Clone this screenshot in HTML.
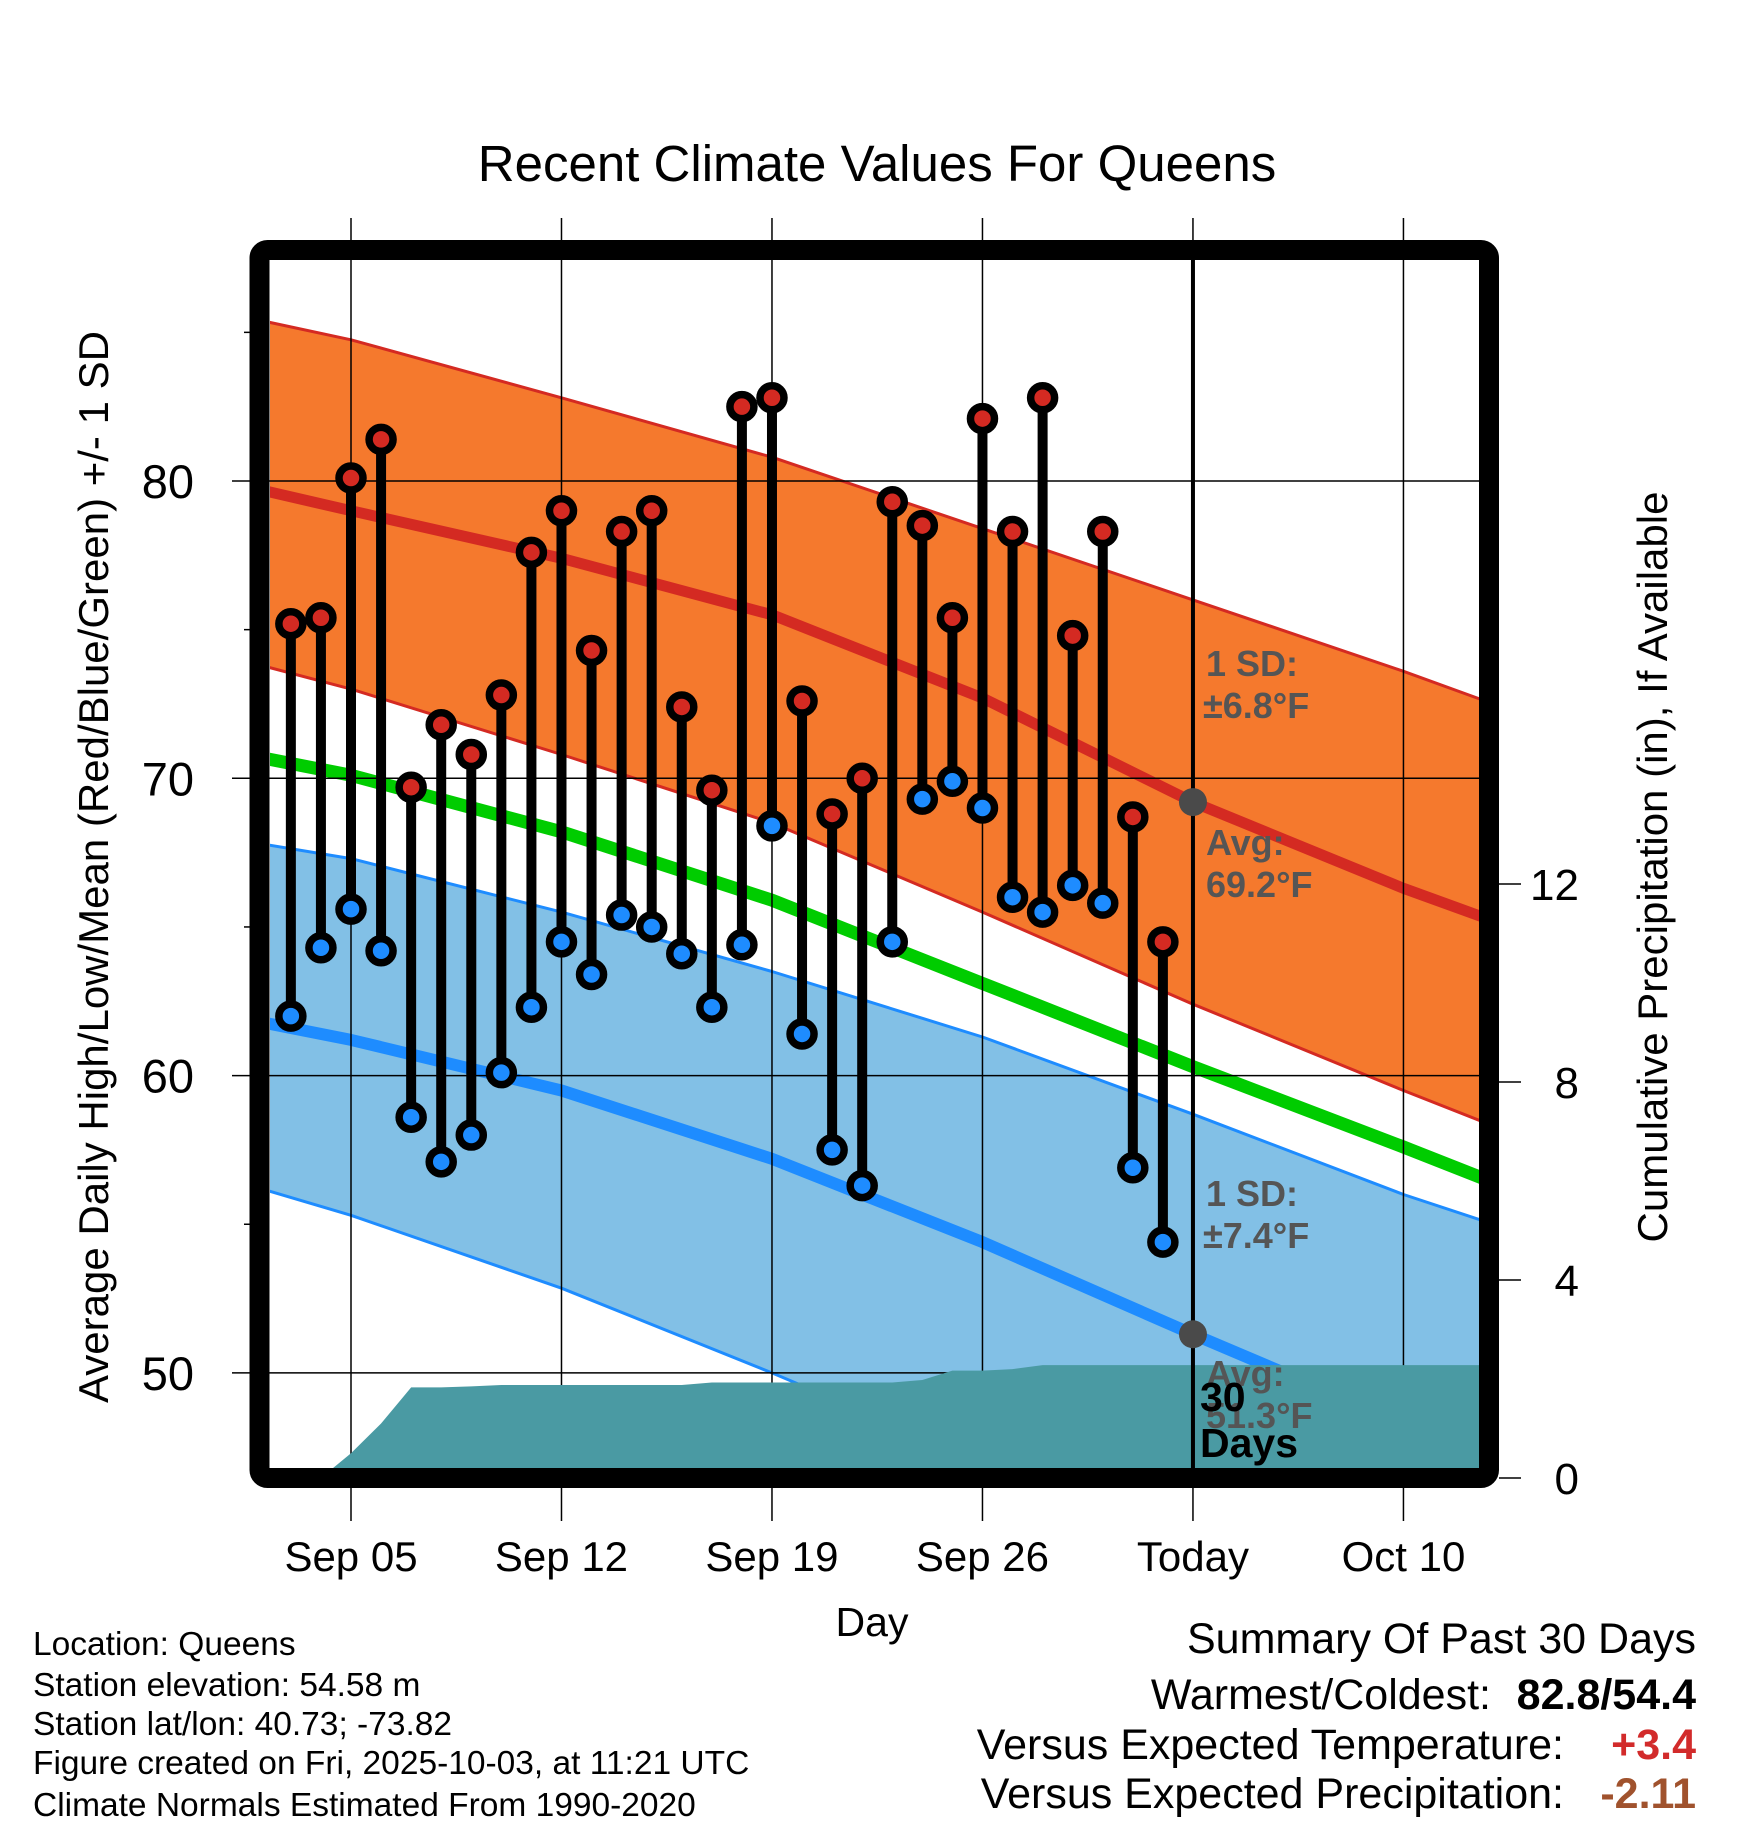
<!DOCTYPE html>
<html><head><meta charset="utf-8"><style>
html,body{margin:0;padding:0;background:#fff;}
svg{display:block;font-family:"Liberation Sans",Arial,sans-serif;}
</style></head><body>
<svg id="chart" width="1748" height="1828" viewBox="0 0 1748 1828" xmlns="http://www.w3.org/2000/svg">
<defs><clipPath id="plotclip"><rect x="270" y="260" width="1209" height="1208"/></clipPath></defs>
<rect x="0" y="0" width="1748" height="1828" fill="#fff"/>
<text x="877" y="181" font-size="51" text-anchor="middle">Recent Climate Values For Queens</text>
<g id="bands" clip-path="url(#plotclip)"></g>
<g id="grid"></g>
<g id="precip" clip-path="url(#plotclip)"></g>
<g id="marks"></g>
<g id="annot"></g>
<rect x="259.5" y="250" width="1229.5" height="1228" rx="8" fill="none" stroke="#000" stroke-width="20"/>
<g id="axes"></g>
<text transform="translate(108,867) rotate(-90)" font-size="42" text-anchor="middle">Average Daily High/Low/Mean (Red/Blue/Green) +/- 1 SD</text>
<text transform="translate(1667,867) rotate(-90)" font-size="42" text-anchor="middle">Cumulative Precipitation (in), If Available</text>
<text x="872" y="1636" font-size="41" text-anchor="middle">Day</text>
<g font-size="33.5">
<text x="33" y="1655">Location: Queens</text>
<text x="33" y="1696">Station elevation: 54.58 m</text>
<text x="33" y="1735">Station lat/lon: 40.73; -73.82</text>
<text x="33" y="1774">Figure created on Fri, 2025-10-03, at 11:21 UTC</text>
<text x="33" y="1816">Climate Normals Estimated From 1990-2020</text>
</g>
<g font-size="43">
<text x="1696" y="1653" text-anchor="end">Summary Of Past 30 Days</text>
<text x="1491" y="1709" text-anchor="end">Warmest/Coldest:</text>
<text x="1696" y="1709" text-anchor="end" font-weight="bold">82.8/54.4</text>
<text x="1564" y="1759" text-anchor="end">Versus Expected Temperature:</text>
<text x="1696" y="1759" text-anchor="end" font-weight="bold" fill="#d22b2b">+3.4</text>
<text x="1564" y="1808" text-anchor="end">Versus Expected Precipitation:</text>
<text x="1696" y="1808" text-anchor="end" font-weight="bold" fill="#a0522d">-2.11</text>
</g>
</svg>
<script>
// ---- data ----
const normDays = [2, 5, 12, 19, 26, 33, 40, 43];           // day number from Sep 0 (Oct 3 = 33)
const highUpper = [85.4, 84.75, 82.8, 80.8, 78.4, 76.0, 73.6, 72.5];
const highMean  = [79.7, 79.0, 77.4, 75.5, 72.7, 69.2, 66.3, 65.2];
const highLower = [73.8, 73.0, 70.8, 68.5, 65.5, 62.4, 59.5, 58.3];
const meanLine  = [70.7, 70.1, 68.2, 65.9, 63.1, 60.3, 57.6, 56.4];
const lowUpper  = [67.8, 67.3, 65.5, 63.5, 61.3, 58.7, 56.0, 55.0];
const lowMean   = [61.8, 61.2, 59.5, 57.2, 54.4, 51.3, 48.3, 47.0];
const lowLower  = [56.2, 55.3, 52.85, 50.0, 47.0, 43.9, 40.7, 39.5];
const obsDays = [3,4,5,6,7,8,9,10,11,12,13,14,15,16,17,18,19,20,21,22,23,24,25,26,27,28,29,30,31,32];
const highs = [75.2,75.4,80.1,81.4,69.7,71.8,70.8,72.8,77.6,79.0,74.3,78.3,79.0,72.4,69.6,82.5,82.8,72.6,68.8,70.0,79.3,78.5,75.4,82.1,78.3,82.8,74.8,78.3,68.7,64.5];
const lows  = [62.0,64.3,65.6,64.2,58.6,57.1,58.0,60.1,62.3,64.5,63.4,65.4,65.0,64.1,62.3,64.4,68.4,61.4,57.5,56.3,64.5,69.3,69.9,69.0,66.0,65.5,66.4,65.8,56.9,54.4];
const precip = [0,0,0.5,1.1,1.83,1.83,1.85,1.88,1.88,1.88,1.88,1.88,1.88,1.88,1.93,1.93,1.93,1.93,1.93,1.93,1.93,1.98,2.17,2.17,2.2,2.28,2.28,2.28,2.28,2.28];
const xTickDays = [5, 12, 19, 26, 33, 40];
const xTickLabels = ["Sep 05","Sep 12","Sep 19","Sep 26","Today","Oct 10"];
const yTicks = [50, 60, 70, 80];
const yMinor = [55, 65, 75, 85];
const pTicks = [0, 4, 8, 12];
const todayDay = 33;

// ---- scales ----
const X = d => 351 + (d - 5) * 30.07;
const Y = v => 481 + (80 - v) * 29.73;
const P = p => 1478 - p * 49.5;
const NS = "http://www.w3.org/2000/svg";
function mk(tag, attrs, parent){ const e=document.createElementNS(NS,tag); for(const k in attrs) e.setAttribute(k,attrs[k]); parent.appendChild(e); return e; }
const bands=document.getElementById('bands'), grid=document.getElementById('grid'), prec=document.getElementById('precip'), marks=document.getElementById('marks'), axes=document.getElementById('axes'), annot=document.getElementById('annot');
const linePts = arr => arr.map((v,i)=>X(normDays[i]).toFixed(1)+','+Y(v).toFixed(1));
function band(up, lo, fill, edge, name){
  const pts = linePts(up).concat(linePts(lo).reverse());
  const p = mk('polygon',{points:pts.join(' '),fill:fill},bands);
  
  
  [up,lo].forEach(a=>{ const l=mk('polyline',{points:linePts(a).join(' '),fill:'none',stroke:edge,'stroke-width':3,'stroke-linejoin':'round'},bands);
    
     });
}
band(highUpper, highLower, '#f5792d', '#d42a22', 'high-sd-band');
band(lowUpper, lowLower, '#82c0e6', '#1e8cff', 'low-sd-band');
function mline(arr, color, w, name){
  const l=mk('polyline',{points:linePts(arr).join(' '),fill:'none',stroke:color,'stroke-width':w,'stroke-linejoin':'round'},bands);
  
  
}
mline(meanLine,'#00cc00',13,'mean-normal-line');
mline(highMean,'#d42a22',11,'high-normal-line');
mline(lowMean,'#1e8cff',12,'low-normal-line');

// grid
yTicks.forEach(v=>{ const l=mk('line',{x1:232,x2:1479,y1:Y(v),y2:Y(v),stroke:'#000','stroke-width':1.5},grid);
  
   });
xTickDays.forEach(d=>{ const l=mk('line',{x1:X(d),x2:X(d),y1:218,y2:1521,stroke:'#000','stroke-width':1.5},grid);
  
   });

// precipitation area
let pp = [X(obsDays[0])+','+P(0)];
obsDays.forEach((d,i)=>pp.push(X(d)+','+P(precip[i])));
pp.push('1479,'+P(precip[precip.length-1])); pp.push('1479,'+P(0));
const pa=mk('polygon',{points:pp.join(' '),fill:'#4a9aa3'},prec);



// today line
const tl=mk('line',{x1:X(todayDay),x2:X(todayDay),y1:260,y2:1468,stroke:'#000','stroke-width':4},marks);



// observations
obsDays.forEach((d,i)=>{
  const x=X(d);
  const s=mk('line',{x1:x,x2:x,y1:Y(highs[i]),y2:Y(lows[i]),stroke:'#000','stroke-width':10},marks);
  
  
  const h=mk('circle',{cx:x,cy:Y(highs[i]),r:12,fill:'#d42a22',stroke:'#000','stroke-width':7.5},marks);
  
  
  const lo=mk('circle',{cx:x,cy:Y(lows[i]),r:12,fill:'#1e8cff',stroke:'#000','stroke-width':7.5},marks);
  
  
});
// today markers
const ti = normDays.indexOf(todayDay);
[highMean[ti], lowMean[ti]].forEach(v=>{ const c=mk('circle',{cx:X(todayDay),cy:Y(v),r:14,fill:'#4a4a4a'},marks);
  
   });

// annotations
function txt(x,y,s,attrs,parent,name){ const t=mk('text',Object.assign({x:x,y:y},attrs),parent); t.textContent=s;
    return t; }
const ga={fill:'#555','font-size':36,'font-weight':'bold'};
txt(1206,676,'1 SD:',ga,annot,'high-sd-label');
txt(1203,718,'±6.8°F',ga,annot,'high-sd-value');
txt(1206,855,'Avg:',ga,annot,'high-avg-label');
txt(1206,897,'69.2°F',ga,annot,'high-avg-value');
txt(1206,1206,'1 SD:',ga,annot,'low-sd-label');
txt(1203,1248,'±7.4°F',ga,annot,'low-sd-value');
txt(1206,1386,'Avg:',ga,annot,'low-avg-label');
txt(1206,1428,'51.3°F',ga,annot,'low-avg-value');
const ba={fill:'#000','font-size':41,'font-weight':'bold'};
txt(1200,1411,'30',ba,annot,'precip-days-label');
txt(1200,1457,'Days',ba,annot,'precip-days-label');

// axes ticks and labels
yTicks.forEach(v=>txt(194,Y(v)+17,String(v),{'font-size':47,'text-anchor':'end'},axes,'y-tick-label'));
yMinor.forEach(v=>{ const l=mk('line',{x1:244,x2:252,y1:Y(v),y2:Y(v),stroke:'#000','stroke-width':1.5},axes);
    });
pTicks.forEach(p=>{ const l=mk('line',{x1:1499,x2:1521,y1:P(p),y2:P(p),stroke:'#000','stroke-width':1.5},axes);
   
  txt(1579,P(p)+16,String(p),{'font-size':44,'text-anchor':'end'},axes,'y2-tick-label'); });
xTickDays.forEach((d,i)=>txt(X(d),1571,xTickLabels[i],{'font-size':42,'text-anchor':'middle'},axes,'x-tick-label'));
</script>
</body></html>
